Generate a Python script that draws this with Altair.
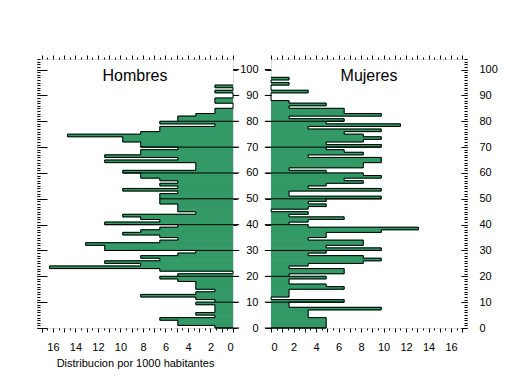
import altair as alt
import pandas as pd

# Distribution per 1000 inhabitants, by single year of age (index = age)
hombres = [1.6, 4.9, 4.9, 6.5, 1.6, 3.3, 1.6, 1.6, 1.6, 3.3,
           1.6, 3.3, 8.2, 3.3, 1.6, 3.3, 3.3, 3.3, 4.9, 6.5,
           4.9, 0.0, 6.5, 16.3, 8.2, 11.4, 6.5, 8.2, 4.9, 3.3,
           11.4, 11.4, 13.1, 6.5, 4.9, 6.5, 9.8, 8.2, 6.5, 4.9,
           11.4, 6.5, 8.2, 9.8, 3.3, 4.9, 4.9, 4.9, 6.5, 6.5,
           6.5, 6.5, 4.9, 9.8, 4.9, 6.5, 4.9, 6.5, 8.2, 8.2,
           9.8, 3.3, 3.3, 3.3, 11.4, 4.9, 11.4, 8.2, 8.2, 4.9,
           8.2, 8.2, 9.8, 9.8, 14.7, 8.2, 6.5, 6.5, 1.6, 6.5,
           4.9, 4.9, 3.3, 1.6, 1.6, 0.0, 0.0, 1.6, 1.6, 0.0,
           0.0, 1.6, 0.0, 1.6]
mujeres = [4.9, 4.9, 4.9, 4.9, 3.3, 3.3, 3.3, 9.8, 1.6, 1.6,
           6.5, 0.0, 1.6, 1.6, 1.6, 6.5, 4.9, 1.6, 1.6, 4.9,
           1.6, 6.5, 6.5, 1.6, 3.3, 8.2, 9.8, 8.2, 3.3, 4.9,
           9.8, 4.9, 8.2, 8.2, 3.3, 4.9, 4.9, 9.8, 13.1, 3.3,
           1.6, 3.3, 6.5, 1.6, 3.3, 0.0, 3.3, 4.9, 3.3, 4.9,
           9.8, 1.6, 1.6, 9.8, 3.3, 4.9, 8.2, 6.5, 9.8, 8.2,
           4.9, 1.6, 8.2, 8.2, 9.8, 9.8, 3.3, 8.2, 6.5, 4.9,
           9.8, 4.9, 8.2, 9.8, 8.2, 6.5, 9.8, 3.3, 11.5, 4.9,
           6.5, 1.6, 9.8, 6.5, 6.5, 1.6, 4.9, 1.6, 0.0, 0.0,
           0.0, 3.3, 0.0, 0.0, 1.6, 0.0, 1.6]
panel_titles = ["Hombres", "Mujeres"]
x_title = "Distribucion por 1000 habitantes"

GREEN = "#339966"
FONT = "Liberation Sans"
XMAX = 17.42
YMAX = 104.1
W, H = 196, 269

x_half_ticks = [i * 0.5 for i in range(0, 35)]
age_ticks = list(range(0, 105))
decades = list(range(0, 101, 10))


def bar_table(values):
    rows = []
    for a, v in enumerate(values):
        if v > 0:
            rows.append({"age": a, "age2": a + 1, "z": 0.0, "v": v})
    return pd.DataFrame(rows)


def step_table(values):
    rows = [{"i": 0, "v": 0.0, "age": 0}]
    i = 1
    for a, v in enumerate(values):
        rows.append({"i": i, "v": v, "age": a}); i += 1
        rows.append({"i": i, "v": v, "age": a + 1}); i += 1
    rows.append({"i": i, "v": 0.0, "age": len(values)})
    return pd.DataFrame(rows)


def decade_table(values):
    rows = []
    for d in decades:
        v = values[d] if d < len(values) else 0.0
        rows.append({"age": d, "x0": -0.55, "v": v})
    return pd.DataFrame(rows)


tick_size_x = {"condition": {"test": "datum.value % 1 === 0", "value": 4}, "value": 2}
common_axis = dict(domain=False, grid=False, tickColor="black", labelColor="black",
                   labelFont=FONT, labelFontSize=11, titleFont=FONT, titleFontSize=11,
                   titleFontWeight="normal", titleColor="black", labelOverlap=False)


def panel(values, title, reverse, left_panel):
    xs = alt.Scale(domain=[0, XMAX], reverse=reverse, nice=False, zero=False)
    ys = alt.Scale(domain=[0, YMAX], nice=False, zero=False)
    bars = bar_table(values)
    steps = step_table(values)
    dec = decade_table(values)

    x_bottom = alt.Axis(orient="bottom", values=x_half_ticks, tickSize=tick_size_x,
                        labelExpr="datum.value % 2 === 0 ? format(datum.value, 'd') : ''",
                        labelPadding=9, title=x_title if left_panel else None,
                        titlePadding=5, **common_axis)
    x_top = alt.Axis(orient="top", values=x_half_ticks, tickSize=tick_size_x,
                     labels=False, title=None, **common_axis)

    if left_panel:
        y_a = alt.Axis(orient="left", values=decades, tickSize=10, offset=-10,
                       labels=False, title=None, **common_axis)
        y_b = alt.Axis(orient="left", values=age_ticks, tickSize=3, offset=-3,
                       labels=False, title=None, **common_axis)
        y_c = alt.Axis(orient="right", values=decades, tickSize=4,
                       labels=False, title=None, **common_axis)
    else:
        y_a = alt.Axis(orient="left", values=decades, tickSize=6, labelPadding=7,
                       title=None, **common_axis)
        y_b = alt.Axis(orient="right", values=decades, tickSize=6, offset=-6,
                       labelPadding=12, title=None, **common_axis)
        y_c = alt.Axis(orient="right", values=age_ticks, tickSize=3, offset=-3,
                       labels=False, title=None, **common_axis)

    fill = alt.Chart(bars).mark_rect(color=GREEN, stroke=GREEN, strokeWidth=1,
                                     clip=True).encode(
        x=alt.X("z:Q", scale=xs, axis=x_bottom),
        x2="v:Q",
        y=alt.Y("age:Q", scale=ys, axis=y_a),
        y2="age2:Q",
    )
    outline = alt.Chart(steps).mark_line(color="black", strokeWidth=1).encode(
        x=alt.X("v:Q", scale=xs, axis=x_top),
        y=alt.Y("age:Q", scale=ys, axis=y_b),
        order="i:Q",
    )
    rules = alt.Chart(dec).mark_rule(color="black", strokeWidth=1).encode(
        x=alt.X("x0:Q", scale=xs, axis=None),
        x2="v:Q",
        y=alt.Y("age:Q", scale=ys, axis=y_c),
    )
    label = alt.Chart(pd.DataFrame({"t": [title]})).mark_text(
        font=FONT, fontSize=16, color="black", baseline="alphabetic", align="center"
    ).encode(
        x=alt.XDatum(XMAX / 2, scale=xs, axis=None),
        y=alt.YDatum(95.6, scale=ys, axis=None),
        text="t:N",
    )
    return alt.layer(fill, outline, rules, label).resolve_axis(
        x="independent", y="independent"
    ).properties(width=W, height=H)


left = panel(hombres, panel_titles[0], True, True)
right = panel(mujeres, panel_titles[1], False, False)

chart = alt.hconcat(left, right, spacing=-2).properties(
    padding={"left": 28, "top": 46, "right": 0, "bottom": 0}
).configure_view(stroke="black", strokeWidth=1).configure(background="white")

chart.save("out.html", embed_options={"renderer": "svg", "actions": False})
